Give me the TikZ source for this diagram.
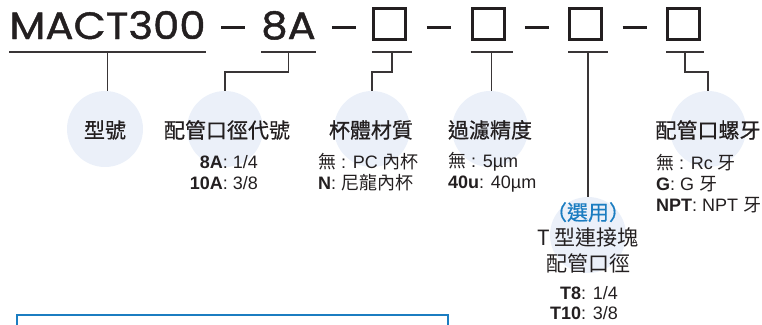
\documentclass[tikz,border=0pt]{standalone}
\usepackage{fontspec}
\usetikzlibrary{calc}
\setmainfont{Liberation Sans}
\newfontfamily\cjk{Noto Sans CJK TC}
\newfontfamily\cjkhead[FakeBold=0.6]{Noto Sans CJK TC}
\newfontfamily\titlefont[FakeBold=1.2,FakeStretch=1.1]{Poppins}
\definecolor{ink}{HTML}{231F20}
\definecolor{bubblefill}{HTML}{EBF0F9}
\definecolor{optblue}{HTML}{1B7DC1}

\begin{document}
\begin{tikzpicture}
[x=1pt,y=-1pt,every node/.style={inner sep=0pt},
 bubble/.style={circle,fill=bubblefill,minimum size=76pt},
 head/.style={font=\cjkhead\fontsize{21}{25}\selectfont,text=ink},
 info/.style={font=\fontsize{18}{21}\selectfont,text=ink},
 titletext/.style={font=\titlefont\fontsize{38}{40}\selectfont,text=ink},
 codebox/.style={draw=ink,line width=3pt,minimum width=32pt,minimum height=31pt},
 bar/.style={draw=ink,line width=3pt},
 rule/.style={draw=ink!90,line width=1.3pt}]
\useasboundingbox (0,0) rectangle (762,324);
% code line
\node[titletext,anchor=base] (t1) at (107.5,39) {MACT300};
\node[titletext,anchor=base] (t2) at (288.5,39) {8A};
\node[codebox] (b1) at (389.5,24) {};
\node[codebox] (b2) at (488,24) {};
\node[codebox] (b3) at (585.5,24) {};
\node[codebox] (b4) at (683.5,24) {};
\coordinate (m) at (0,27);
\coordinate (r) at (0,52);
\foreach \a/\b in {t1/t2,t2/b1,b1/b2,b2/b3,b3/b4}{
  \path ($(\a.east)!.5!(\b.west)$) coordinate (d);
  \draw[bar] (d |- m) +(-12,0) -- +(12,0);
}
\foreach \n/\d in {t1/0,t2/0,b1/5,b2/7,b3/5,b4/3}
  \draw[rule] (\n.west |- r) -- coordinate (u\n) ([xshift=\d pt]\n.east |- r);
% bubbles
\node[bubble] (c1) at (105,129) {};
\node[bubble] (c2) at (225,129) {};
\node[bubble] (c3) at (372,129) {};
\node[bubble] (c4) at (490,129) {};
\node[bubble] (c5) at (708,129) {};
\node[bubble] (c6) at (588,235) {};
\draw[rule] (ut1) -- (ut1 |- c1.north);
\draw[rule] (ut2) -- ++(0,20) -| (c2.north);
\draw[rule] (ub1) -- ++(0,20) -| (c3.north);
\draw[rule] (ub2) -- (ub2 |- c4.north);
\draw[rule] (ub3) -- (ub3 |- c6.north);
\draw[rule] (ub4) -- ++(0,20) -| (c5.north);
% headings
\node[head] (h1) at (105,130) {型號};
\node[head] (h2) at (227,130) {配管口徑代號};
\node[head] (h3) at (371,130) {杯體材質};
\node[head] (h4) at (490,130) {過濾精度};
\node[head] (h5) at (708,130) {配管口螺牙};
\node[head,align=center,font=\cjk\fontsize{21}{25.5}\selectfont] (h6) at (588,237.5)
  {\textcolor{optblue}{\cjkhead（選用）}\\T 型連接塊\\配管口徑};
% options
\node[info,anchor=east,align=right] (i2) at (258,172.5) {\textbf{8A}: 1/4\\\textbf{10A}: 3/8};
\node[info,anchor=west,align=left] (i3) at (318,172.5) {{\cjk 無} : PC {\cjk 內杯}\\\textbf{N}: {\cjk 尼龍內杯}};
\node[info,anchor=west,align=left] (i4) at (448,172.5) {{\cjk 無} : 5µm\\\textbf{40u}: 40µm};
\node[info,anchor=west,align=left] (i5) at (656,183.5) {{\cjk 無} : Rc {\cjk 牙}\\\textbf{G}: G {\cjk 牙}\\\textbf{NPT}: NPT {\cjk 牙}};
\node[info,anchor=east,align=right,font=\fontsize{18}{20}\selectfont] (i6) at (618,303) {\textbf{T8}: 1/4\\\textbf{T10}: 3/8};
% frame below
\draw[optblue,line width=1.5pt] (17,340) |- (448,315) -- (448,340);
\end{tikzpicture}
\end{document}
